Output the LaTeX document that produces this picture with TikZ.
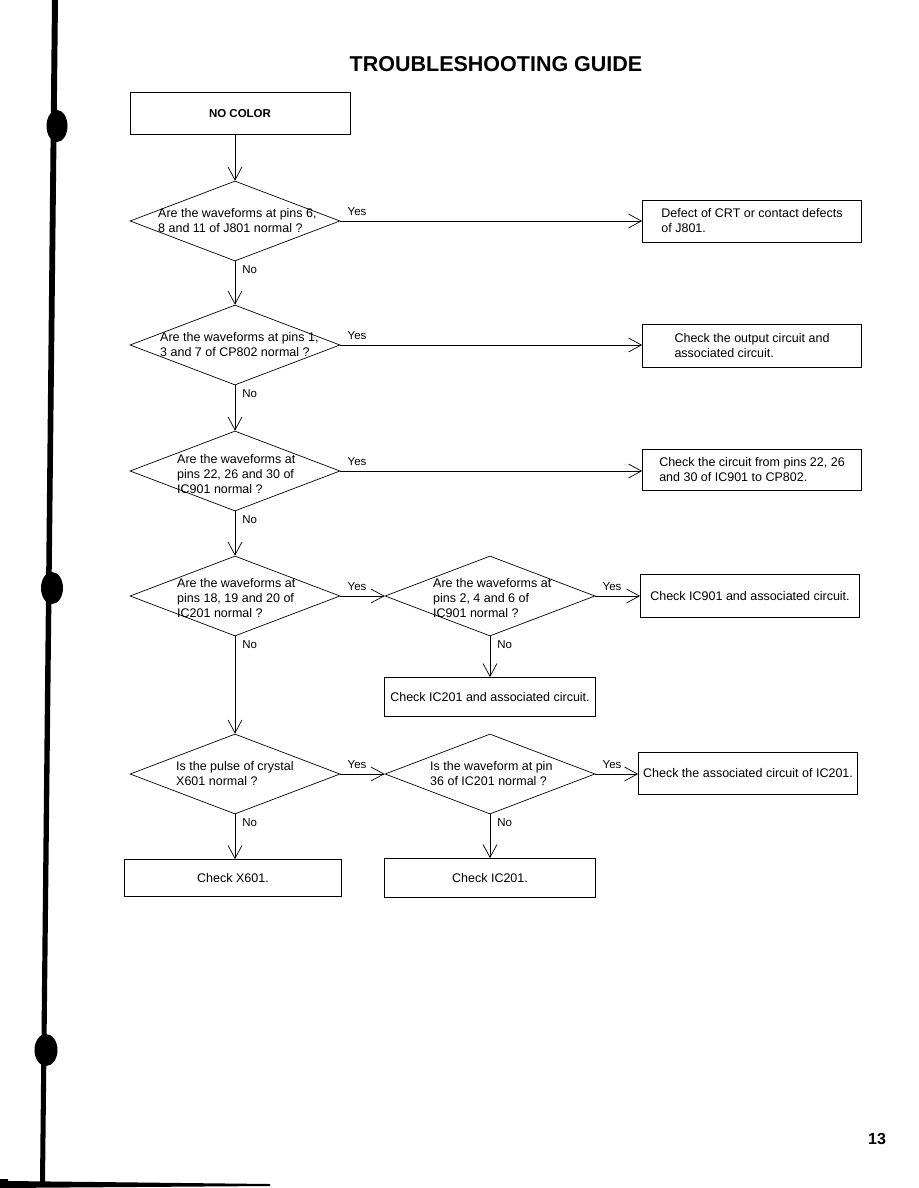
\documentclass[tikz,border=0pt]{standalone}
\usepackage{fontspec}
\setmainfont{Liberation Sans}
\usetikzlibrary{arrows.meta,shapes.geometric}

\newcommand{\qfont}{\fontsize{12.5}{15}\selectfont}
\newcommand{\lblfont}{\fontsize{11.5}{13}\selectfont}

\begin{document}
\begin{tikzpicture}[x=1pt,y=-1pt,
  question/.style={draw,diamond,minimum width=210pt,minimum height=80pt,inner sep=0pt,line width=0.7pt},
  qtext/.style={align=left,anchor=west,inner sep=0pt,font=\qfont},
  result/.style={draw,rectangle,minimum width=219pt,minimum height=42pt,align=left,line width=0.7pt,font=\qfont},
  flow/.style={draw,line width=0.7pt,-{Straight Barb[length=13pt,width=14pt]}},
  yeslbl/.style={anchor=south west,inner sep=1pt,xshift=6pt,yshift=4pt,font=\lblfont},
  nolbl/.style={anchor=north west,inner sep=1pt,xshift=6pt,yshift=-3pt,font=\lblfont}]
\useasboundingbox (0,0) rectangle (918,1188);

% edge of the scanned page
\fill (52,0) -- (58,0) -- (45,1183) -- (40,1183) -- cycle;
\fill (57,126) ellipse [x radius=10.5pt,y radius=16pt];
\fill (52,588) ellipse [x radius=11pt,y radius=16pt];
\fill (46,1050) ellipse [x radius=11.5pt,y radius=16pt];
\fill (0,1179) -- (8,1179) -- (8,1181) -- (270,1184) -- (270,1186) -- (0,1188) -- cycle;

\node[font=\bfseries\fontsize{21.5}{24}\selectfont] (title) at (496,64) {TROUBLESHOOTING GUIDE};
\node[draw,line width=1pt,minimum width=220pt,minimum height=42pt,font=\bfseries\fontsize{11.5}{13}\selectfont] (start) at (240,114) {NO COLOR};

% questions
\node[question] (q1) at (235,221) {};
\node[qtext] (q1t) at (158,221) {Are the waveforms at pins 6,\\8 and 11 of J801 normal ?};
\node[question] (q2) at (235,345) {};
\node[qtext] (q2t) at (160,345) {Are the waveforms at pins 1,\\3 and 7 of CP802 normal ?};
\node[question] (q3) at (235,471) {};
\node[qtext] (q3t) at (177,474) {Are the waveforms at\\pins 22, 26 and 30 of\\IC901 normal ?};
\node[question] (q4) at (235,596) {};
\node[qtext] (q4t) at (177,598) {Are the waveforms at\\pins 18, 19 and 20 of\\IC201 normal ?};
\node[question] (q5) at (490,596) {};
\node[qtext] (q5t) at (433,598) {Are the waveforms at\\pins 2, 4 and 6 of\\IC901 normal ?};
\node[question] (q6) at (235,774) {};
\node[qtext] (q6t) at (176,774) {Is the pulse of crystal\\X601 normal ?};
\node[question] (q7) at (490,774) {};
\node[qtext] (q7t) at (430,774) {Is the waveform at pin\\36 of IC201 normal ?};

% results
\node[result] (r1) at (752,221) {Defect of CRT or contact defects\\of J801.};
\node[result,minimum height=43pt] (r2) at (752,346) {Check the output circuit and\\associated circuit.};
\node[result,minimum height=41pt] (r3) at (752,470) {Check the circuit from pins 22, 26\\and 30 of IC901 to CP802.};
\node[result,minimum height=43pt] (r4) at (750,596) {Check IC901 and associated circuit.};
\node[result] (r5) at (748,773) {Check the associated circuit of IC201.};
\node[result,minimum width=211pt,minimum height=39pt] (r6) at (490,697) {Check IC201 and associated circuit.};
\node[result,minimum width=217pt,minimum height=37pt] (r7) at (233,878) {Check X601.};
\node[result,minimum width=211pt,minimum height=39pt] (r8) at (490,878) {Check IC201.};

% connectors
\draw[flow] (start.south -| q1.north) -- (q1.north);
\draw[flow] (q1.east) -- node[yeslbl,pos=0] (y1) {Yes} (q1.east -| r1.west);
\draw[flow] (q1.south) -- node[nolbl,pos=0] (n1) {No} (q2.north);
\draw[flow] (q2.east) -- node[yeslbl,pos=0] (y2) {Yes} (q2.east -| r2.west);
\draw[flow] (q2.south) -- node[nolbl,pos=0] (n2) {No} (q3.north);
\draw[flow] (q3.east) -- node[yeslbl,pos=0] (y3) {Yes} (q3.east -| r3.west);
\draw[flow] (q3.south) -- node[nolbl,pos=0] (n3) {No} (q4.north);
\draw[flow] (q4.east) -- node[yeslbl,pos=0] (y4) {Yes} (q5.west);
\draw[flow] (q4.south) -- node[nolbl,pos=0] (n4) {No} (q6.north);
\draw[flow] (q5.east) -- node[yeslbl,pos=0] (y5) {Yes} (q5.east -| r4.west);
\draw[flow] (q5.south) -- node[nolbl,pos=0] (n5) {No} (r6.north);
\draw[flow] (q6.east) -- node[yeslbl,pos=0] (y6) {Yes} (q7.west);
\draw[flow] (q6.south) -- node[nolbl,pos=0] (n6) {No} (q6.south |- r7.north);
\draw[flow] (q7.east) -- node[yeslbl,pos=0] (y7) {Yes} (q7.east -| r5.west);
\draw[flow] (q7.south) -- node[nolbl,pos=0] (n7) {No} (r8.north);

\node[font=\bfseries\fontsize{16}{18}\selectfont] (page) at (877,1139) {13};
\end{tikzpicture}
\end{document}
